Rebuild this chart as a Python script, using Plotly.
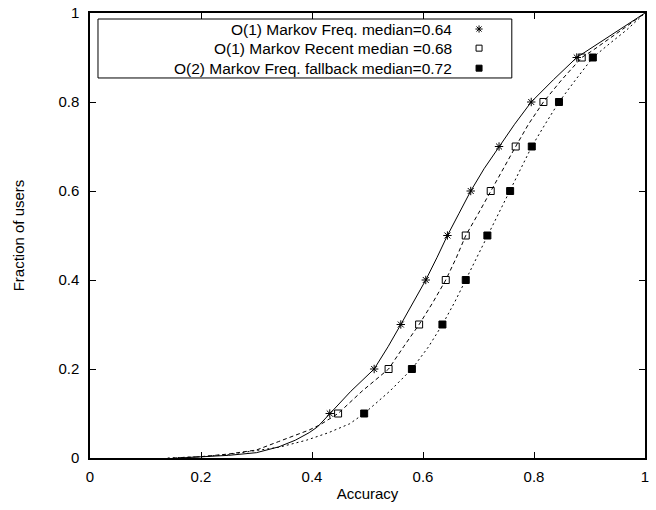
import plotly.graph_objects as go

# ---------------- data ----------------
acc_freq1 = [0.16, 0.20, 0.25, 0.30, 0.34, 0.37, 0.395, 0.41, 0.432, 0.47, 0.512, 0.537, 0.56, 0.583, 0.605,
             0.625, 0.644, 0.665, 0.686, 0.71, 0.737, 0.765, 0.795, 0.835, 0.877, 0.907, 0.937, 0.967, 1.0]
frac_freq1 = [0.0, 0.002, 0.006, 0.012, 0.025, 0.040, 0.057, 0.070, 0.10, 0.15, 0.20, 0.25, 0.30, 0.35, 0.40,
              0.45, 0.50, 0.55, 0.60, 0.65, 0.70, 0.75, 0.80, 0.85, 0.90, 0.924, 0.95, 0.973, 1.0]

acc_recent1 = [0.15, 0.20, 0.25, 0.30, 0.34, 0.37, 0.395, 0.415, 0.447, 0.49, 0.538, 0.565, 0.593, 0.618, 0.641,
               0.66, 0.677, 0.70, 0.722, 0.745, 0.767, 0.79, 0.817, 0.85, 0.886, 0.907, 0.937, 0.967, 1.0]
frac_recent1 = [0.0, 0.003, 0.009, 0.018, 0.037, 0.052, 0.063, 0.075, 0.10, 0.15, 0.20, 0.25, 0.30, 0.35, 0.40,
                0.45, 0.50, 0.55, 0.60, 0.65, 0.70, 0.75, 0.80, 0.85, 0.90, 0.917, 0.943, 0.970, 1.0]

acc_freq2 = [0.14, 0.20, 0.25, 0.30, 0.34, 0.39, 0.43, 0.468, 0.494, 0.54, 0.58, 0.61, 0.635, 0.657,
             0.677, 0.697, 0.716, 0.737, 0.757, 0.777, 0.796, 0.82, 0.845, 0.875, 0.906, 0.937, 0.967, 1.0]
frac_freq2 = [0.0, 0.003, 0.008, 0.016, 0.024, 0.040, 0.057, 0.077, 0.10, 0.15, 0.20, 0.25, 0.30, 0.35,
              0.40, 0.45, 0.50, 0.55, 0.60, 0.65, 0.70, 0.75, 0.80, 0.85, 0.90, 0.932, 0.962, 1.0]

# marker points (every 0.1 of the fraction of users)
mark_frac = [0.1, 0.2, 0.3, 0.4, 0.5, 0.6, 0.7, 0.8, 0.9]
mark_freq1 = [0.432, 0.512, 0.56, 0.605, 0.644, 0.686, 0.737, 0.795, 0.877]
mark_recent1 = [0.447, 0.538, 0.593, 0.641, 0.677, 0.722, 0.767, 0.817, 0.886]
mark_freq2 = [0.494, 0.58, 0.635, 0.677, 0.716, 0.757, 0.796, 0.845, 0.906]

series_names = ["O(1) Markov Freq. median=0.64",
                "O(1) Markov Recent median =0.68",
                "O(2) Markov Freq. fallback median=0.72"]

tick_vals = [0, 0.2, 0.4, 0.6, 0.8, 1]
tick_text = ["0", "0.2", "0.4", "0.6", "0.8", "1"]

# ---------------- figure ----------------
FONT = "Liberation Sans, Arial, Helvetica, sans-serif"
fig = go.Figure()

line_styles = ["solid", "4px,3px", "2px,3px"]
symbols = ["asterisk-open", "square-open", "square"]
curves = [(acc_freq1, frac_freq1, mark_freq1),
          (acc_recent1, frac_recent1, mark_recent1),
          (acc_freq2, frac_freq2, mark_freq2)]

for (ax, fy, mx), dash, sym, name in zip(curves, line_styles, symbols, series_names):
    fig.add_trace(go.Scatter(x=ax, y=fy, mode="lines", showlegend=False,
                             line=dict(color="black", width=1, dash=dash), hoverinfo="skip"))
    fig.add_trace(go.Scatter(x=mx, y=mark_frac, mode="markers", name=name, showlegend=False,
                             marker=dict(symbol=sym, size=7, color="black",
                                         line=dict(color="black", width=1))))

# custom gnuplot-style legend (text right aligned, key on the right)
leg_left, leg_right, leg_top, leg_bottom = 0.0144, 0.760, 0.9865, 0.854
leg_rows = [0.964, 0.921, 0.876]
leg_text_x = 0.655
leg_key_x = 0.701
fig.add_shape(type="rect", xref="paper", yref="paper", x0=leg_left, x1=leg_right,
              y0=leg_bottom, y1=leg_top, line=dict(color="black", width=1),
              layer="below")
for name, ry in zip(series_names, leg_rows):
    fig.add_annotation(x=leg_text_x, y=ry, xref="paper", yref="paper", text=name,
                       showarrow=False, xanchor="right", yanchor="middle",
                       font=dict(family=FONT, size=15.5, color="black"))
fig.add_trace(go.Scatter(x=[leg_key_x] * 3, y=leg_rows, mode="markers", xaxis="x2", yaxis="y2",
                         showlegend=False, hoverinfo="skip",
                         marker=dict(symbol=symbols, size=6, color="black",
                                     line=dict(color="black", width=1))))

axis_common = dict(range=[0, 1], tickvals=tick_vals, ticktext=tick_text, ticks="inside",
                   ticklen=6, tickwidth=1, tickcolor="black", showline=True, linecolor="black",
                   linewidth=1.5, mirror="ticks", showgrid=False, zeroline=False, automargin=False,
                   tickfont=dict(family=FONT, size=15, color="black"))

fig.update_layout(
    width=656, height=510,
    margin=dict(l=90, r=11, t=13, b=52),
    plot_bgcolor="white", paper_bgcolor="white",
    font=dict(family=FONT, size=15, color="black"),
    xaxis=dict(**axis_common, ticklabelstandoff=4,
               title=dict(text="Accuracy", font=dict(family=FONT, size=15), standoff=5)),
    yaxis=dict(**axis_common, ticklabelstandoff=6,
               title=dict(text="Fraction of users", font=dict(family=FONT, size=15), standoff=30)),
    xaxis2=dict(range=[0, 1], overlaying="x", visible=False, fixedrange=True),
    yaxis2=dict(range=[0, 1], overlaying="y", visible=False, fixedrange=True),
    showlegend=False,
)

fig.write_html("out.html")
